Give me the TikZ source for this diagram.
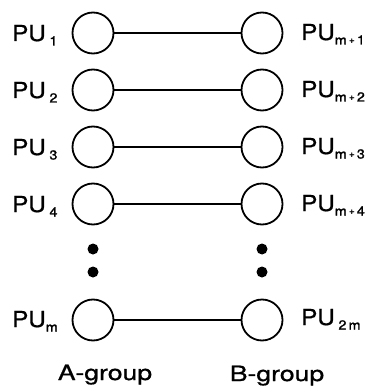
\documentclass[tikz,border=0pt]{standalone}
\usepackage{fontspec}
\setmainfont{TeX Gyre Heros}
\newfontfamily\labfont{TeX Gyre Heros}[FakeStretch=1.1,FakeBold=0.8]
\newfontfamily\subfont{TeX Gyre Heros}[FakeStretch=1.1,FakeBold=1.6]
\newcommand\pusub[1]{\raisebox{-4.5pt}{\subfont\fontsize{13}{13}\selectfont #1}}
\newcommand\subplus{\raisebox{1.5pt}{\scalebox{0.7}{+}}}
\begin{document}
\begin{tikzpicture}[x=1pt,y=-1pt,
  pu/.style={circle,draw,line width=1.8pt,minimum size=41pt,inner sep=0pt},
  link/.style={line width=1.8pt},
  lab/.style={anchor=base west,inner sep=0pt,font=\labfont\fontsize{22}{22}\selectfont},
  grp/.style={anchor=base,inner sep=0pt,font=\labfont\fontsize{21}{21}\selectfont},
  vdot/.style={circle,fill,inner sep=0pt,minimum size=11pt}]
\useasboundingbox (0,0) rectangle (373,390);
% A-group column
\node[pu] (a1) at (93,33) {};
\node[pu] (a2) at (93,90) {};
\node[pu] (a3) at (93,147) {};
\node[pu] (a4) at (93,204) {};
\node[pu] (am) at (93,320) {};
% B-group column
\node[pu] (b1) at (262,33) {};
\node[pu] (b2) at (262,90) {};
\node[pu] (b3) at (262,147) {};
\node[pu] (b4) at (262,204) {};
\node[pu] (bm) at (262,320) {};
% pair links
\foreach \r in {1,2,3,4,m} \draw[link] (a\r) -- (b\r);
% ellipsis dots
\node[vdot] (da1) at (93,249) {};
\node[vdot] (da2) at (93,272) {};
\node[vdot] (db1) at (262,249) {};
\node[vdot] (db2) at (262,272) {};
% labels
\node[lab] (la1) at (12,41) {PU\,\pusub{1}};
\node[lab] (la2) at (12,98) {PU\,\pusub{2}};
\node[lab] (la3) at (12,155) {PU\,\pusub{3}};
\node[lab] (la4) at (12,212) {PU\,\pusub{4}};
\node[lab] (lam) at (12,327) {PU\pusub{m}};
\node[lab] (lb1) at (301,40) {PU\pusub{m\,\subplus\,1}};
\node[lab] (lb2) at (301,97) {PU\pusub{m\,\subplus\,2}};
\node[lab] (lb3) at (301,154) {PU\pusub{m\,\subplus\,3}};
\node[lab] (lb4) at (301,211) {PU\pusub{m\,\subplus\,4}};
\node[lab] (lbm) at (301,325) {PU\,\pusub{2\,m}};
\node[grp] (ga) at (105,380) {\scalebox{1.15}[1]{A-group}};
\node[grp] (gb) at (277,381) {\scalebox{1.15}[1]{B-group}};
\end{tikzpicture}
\end{document}
